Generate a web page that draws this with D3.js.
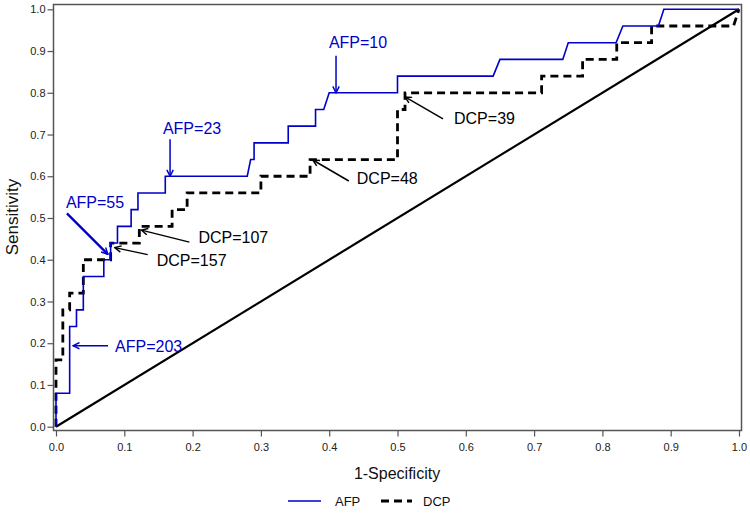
<!DOCTYPE html>
<html>
<head>
<meta charset="utf-8">
<script src="https://cdn.jsdelivr.net/npm/d3@7"></script>
<style>
  body { margin: 0; background: #fff; }
  svg { display: block; font-family: Arial, "Liberation Sans", sans-serif; }
</style>
</head>
<body>
<svg id="chart" width="750" height="515"></svg>
<script>
// ROC points: [1-specificity, sensitivity]
const afpCurve = [
  [0, 0], [0, 0.08], [0.02, 0.08], [0.02, 0.24], [0.03, 0.24], [0.03, 0.28],
  [0.04, 0.28], [0.04, 0.36], [0.07, 0.36], [0.07, 0.40], [0.08, 0.40], [0.08, 0.44],
  [0.09, 0.44], [0.09, 0.48], [0.11, 0.48], [0.11, 0.52], [0.12, 0.52], [0.12, 0.56],
  [0.16, 0.56], [0.16, 0.60], [0.28, 0.60], [0.285, 0.64], [0.29, 0.64], [0.29, 0.68],
  [0.34, 0.68], [0.34, 0.72], [0.38, 0.72], [0.38, 0.76], [0.392, 0.76], [0.40, 0.80],
  [0.50, 0.80], [0.50, 0.84], [0.64, 0.84], [0.65, 0.88], [0.742, 0.88], [0.75, 0.92],
  [0.82, 0.92], [0.83, 0.96], [0.882, 0.96], [0.89, 1.0], [1, 1]
];
const dcpCurve = [
  [0, 0], [0, 0.16], [0.01, 0.16], [0.01, 0.28], [0.02, 0.28], [0.02, 0.32],
  [0.04, 0.32], [0.04, 0.40], [0.08, 0.40], [0.08, 0.44], [0.122, 0.44], [0.122, 0.48],
  [0.17, 0.48], [0.17, 0.52], [0.192, 0.52], [0.192, 0.56], [0.30, 0.56], [0.30, 0.60],
  [0.372, 0.60], [0.372, 0.64], [0.50, 0.64], [0.50, 0.76], [0.511, 0.76], [0.511, 0.80],
  [0.711, 0.80], [0.711, 0.84], [0.771, 0.84], [0.771, 0.88], [0.821, 0.88], [0.821, 0.92],
  [0.872, 0.92], [0.872, 0.96], [0.992, 0.96], [1, 1]
];
const chanceLine = [[0, 0], [1, 1]];

const tickValues = [0, 0.1, 0.2, 0.3, 0.4, 0.5, 0.6, 0.7, 0.8, 0.9, 1.0];

// cut-off labels and the curve point each arrow points at
const cutoffLabels = ["AFP=10", "AFP=23", "AFP=55", "AFP=203", "DCP=157", "DCP=107", "DCP=48", "DCP=39"];
const cutoffSeries = ["AFP", "AFP", "AFP", "AFP", "DCP", "DCP", "DCP", "DCP"];
const cutoffPoints = [[0.41, 0.80], [0.167, 0.60], [0.076, 0.413], [0.025, 0.194],
                      [0.086, 0.429], [0.125, 0.471], [0.376, 0.639], [0.511, 0.79]];

// where the arrow tail and label sit, relative to the tip (pixels)
const labelLayout = [
  { tail: [0, -37], text: [22, -45], anchor: "middle" },
  { tail: [0, -37], text: [22, -42], anchor: "middle" },
  { tail: [-41, -41], text: [-42, -46], anchor: "start" },
  { tail: [35, 0], text: [42, 6], anchor: "start" },
  { tail: [33, 7], text: [42, 18], anchor: "start" },
  { tail: [48, 12], text: [57, 13], anchor: "start" },
  { tail: [36, 21], text: [44, 24], anchor: "start" },
  { tail: [38, 22], text: [49, 27], anchor: "start" }
];

const blue = "#0000c8";
const svg = d3.select("#chart");

const x = d3.scaleLinear().domain([0, 1]).range([56, 739]);
const y = d3.scaleLinear().domain([0, 1]).range([426.7, 9.3]);

// frame
svg.append("rect")
  .attr("x", 53.5).attr("y", 4.5)
  .attr("width", 688).attr("height", 426)
  .attr("fill", "none").attr("stroke", "#555").attr("stroke-width", 1.5);

const xAxis = svg.append("g")
  .attr("transform", "translate(0,430.5)")
  .call(d3.axisBottom(x).tickValues(tickValues).tickFormat(d3.format(".1f")).tickSize(6).tickSizeOuter(0));
const yAxis = svg.append("g")
  .attr("transform", "translate(53.5,0)")
  .call(d3.axisLeft(y).tickValues(tickValues).tickFormat(d3.format(".1f")).tickSize(6).tickSizeOuter(0));
[xAxis, yAxis].forEach(a => {
  a.select(".domain").remove();
  a.selectAll(".tick line").attr("stroke", "#555").attr("stroke-width", 1.2);
  a.selectAll(".tick text").attr("fill", "#222").style("font-size", "11px")
    .style("font-family", "Arial, 'Liberation Sans', sans-serif");
});
xAxis.selectAll(".tick text").attr("dy", "1.05em");
yAxis.selectAll(".tick text").attr("x", -8);

const line = d3.line().x(d => x(d[0])).y(d => y(d[1]));

svg.append("path").datum(chanceLine).attr("d", line)
  .attr("fill", "none").attr("stroke", "#000").attr("stroke-width", 2.2);
svg.append("path").datum(dcpCurve).attr("d", line)
  .attr("fill", "none").attr("stroke", "#000").attr("stroke-width", 2.8)
  .attr("stroke-dasharray", "8,5");
svg.append("path").datum(afpCurve).attr("d", line)
  .attr("fill", "none").attr("stroke", blue).attr("stroke-width", 1.6);

// arrow heads
const defs = svg.append("defs");
[["arrowBlue", blue], ["arrowBlack", "#000"]].forEach(([id, c]) => {
  defs.append("marker").attr("id", id)
    .attr("viewBox", "0 0 10 10").attr("refX", 9).attr("refY", 5)
    .attr("markerWidth", 8).attr("markerHeight", 8).attr("markerUnits", "userSpaceOnUse")
    .attr("orient", "auto")
    .append("path").attr("d", "M1,1 L9,5 L1,9")
    .attr("fill", "none").attr("stroke", c).attr("stroke-width", 1.8);
});

const notes = svg.append("g");
cutoffLabels.forEach((label, i) => {
  const tip = [x(cutoffPoints[i][0]), y(cutoffPoints[i][1])];
  const lay = labelLayout[i];
  const isAfp = cutoffSeries[i] === "AFP";
  const col = isAfp ? blue : "#000";
  notes.append("line")
    .attr("x1", tip[0] + lay.tail[0]).attr("y1", tip[1] + lay.tail[1])
    .attr("x2", tip[0]).attr("y2", tip[1])
    .attr("stroke", col).attr("stroke-width", label === "AFP=55" ? 2.4 : 1.5)
    .attr("marker-end", isAfp ? "url(#arrowBlue)" : "url(#arrowBlack)");
  notes.append("text")
    .attr("x", tip[0] + lay.text[0]).attr("y", tip[1] + lay.text[1])
    .attr("text-anchor", lay.anchor)
    .attr("fill", col).style("font-size", "16px")
    .text(label);
});

// axis titles
svg.append("text").attr("x", 397).attr("y", 479).attr("text-anchor", "middle")
  .style("font-size", "16px").attr("fill", "#111").text("1-Specificity");
svg.append("text").attr("transform", "translate(18,217) rotate(-90)").attr("text-anchor", "middle")
  .style("font-size", "17px").attr("fill", "#111").text("Sensitivity");

// legend
const legend = svg.append("g").attr("transform", "translate(0,501)");
legend.append("line").attr("x1", 288).attr("x2", 321).attr("y1", 0).attr("y2", 0)
  .attr("stroke", blue).attr("stroke-width", 1.6);
legend.append("text").attr("x", 335).attr("y", 5).style("font-size", "13px").attr("fill", "#111").text("AFP");
legend.append("line").attr("x1", 381).attr("x2", 412).attr("y1", 0).attr("y2", 0)
  .attr("stroke", "#000").attr("stroke-width", 2.8).attr("stroke-dasharray", "8,5");
legend.append("text").attr("x", 423).attr("y", 5).style("font-size", "13px").attr("fill", "#111").text("DCP");
</script>
</body>
</html>
